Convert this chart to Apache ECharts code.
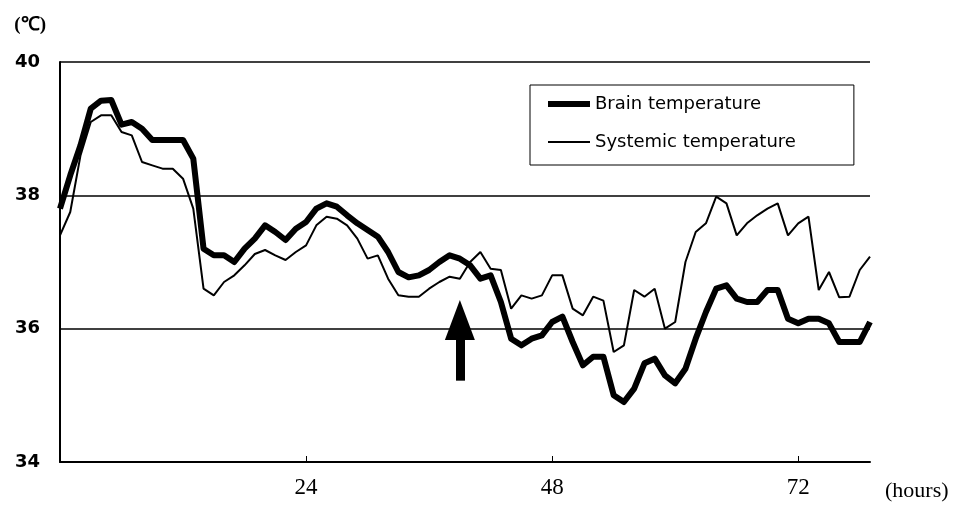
<!DOCTYPE html>
<html>
<head>
<meta charset="utf-8">
<script src="https://cdn.jsdelivr.net/npm/echarts@6/dist/echarts.min.js"></script>
<style>
  html, body { margin: 0; padding: 0; background: #fff; }
  #grafico-temperatura { width: 960px; height: 506px; }
</style>
</head>
<body>
<div id="grafico-temperatura"></div>
<script>
// --- dados (uma amostra por hora) ---
var horas = [
  0, 1, 2, 3, 4, 5, 6, 7, 8, 9, 10, 11, 12, 13, 14, 15, 16, 17, 18, 19,
  20, 21, 22, 23, 24, 25, 26, 27, 28, 29, 30, 31, 32, 33, 34, 35, 36, 37, 38, 39,
  40, 41, 42, 43, 44, 45, 46, 47, 48, 49, 50, 51, 52, 53, 54, 55, 56, 57, 58, 59,
  60, 61, 62, 63, 64, 65, 66, 67, 68, 69, 70, 71, 72, 73, 74, 75, 76, 77, 78, 79
];

var tempCerebral = [
  37.8, 38.3, 38.75, 39.3, 39.42, 39.43, 39.06, 39.1, 39.0, 38.83,
  38.83, 38.83, 38.83, 38.55, 37.2, 37.1, 37.1, 37.0, 37.2, 37.35,
  37.55, 37.45, 37.33, 37.5, 37.6, 37.8, 37.88, 37.83, 37.7, 37.58,
  37.48, 37.38, 37.15, 36.85, 36.77, 36.8, 36.88, 37.0, 37.1, 37.05,
  36.95, 36.75, 36.8, 36.4, 35.85, 35.75, 35.85, 35.9, 36.1, 36.18,
  35.8, 35.45, 35.58, 35.58, 35.0, 34.9, 35.1, 35.48, 35.55, 35.3,
  35.18, 35.4, 35.85, 36.25, 36.6, 36.65, 36.45, 36.4, 36.4, 36.58,
  36.58, 36.15, 36.08, 36.15, 36.15, 36.08, 35.8, 35.8, 35.8, 36.1
];

var tempSistemica = [
  37.4, 37.75, 38.6, 39.1, 39.2, 39.2, 38.95, 38.9, 38.5, 38.45,
  38.4, 38.4, 38.25, 37.8, 36.6, 36.5, 36.7, 36.8, 36.95, 37.12,
  37.18, 37.1, 37.03, 37.15, 37.25, 37.55, 37.68, 37.65, 37.55, 37.35,
  37.05, 37.1, 36.75, 36.5, 36.48, 36.48, 36.6, 36.7, 36.78, 36.75,
  37.0, 37.15, 36.9, 36.88, 36.3, 36.5, 36.45, 36.5, 36.8, 36.8,
  36.3, 36.2, 36.48, 36.42, 35.65, 35.75, 36.58, 36.48, 36.6, 36.0,
  36.1, 37.0, 37.45, 37.58, 37.98, 37.88, 37.4, 37.58, 37.7, 37.8,
  37.88, 37.4, 37.58, 37.68, 36.58, 36.85, 36.47, 36.48, 36.88, 37.08
];

var marcasHoras = [24, 48, 72];
// seta: hora, base da haste, topo da haste, centro da ponta
var setaHora = 39;
var setaBase = 35.22;
var setaTopo = 35.9;
var setaPonta = 36.13;

function iniciarGraficoTemperatura() {
    var elementoDOM = document.getElementById('grafico-temperatura');
    var grafico = echarts.init(elementoDOM, null, { renderer: 'canvas' });

    var mostraHora = function (idx) { return marcasHoras.indexOf(idx) >= 0; };

    var option = {
        animation: false,
        backgroundColor: '#fff',
        grid: { left: 60, right: 90, top: 62, bottom: 44 },
        legend: {
            orient: 'vertical',
            left: 530,
            top: 85,
            padding: [10, 58, 14, 15],
            itemGap: 20,
            itemWidth: 42,
            itemHeight: 14,
            backgroundColor: '#fff',
            borderColor: '#000',
            borderWidth: 1,
            borderRadius: 0,
            itemStyle: { opacity: 0 },
            textStyle: { fontFamily: 'DejaVu Sans', fontSize: 18, color: '#000' },
            data: [
                { name: 'Brain temperature', lineStyle: { width: 6 } },
                { name: 'Systemic temperature', lineStyle: { width: 2 } }
            ]
        },
        xAxis: {
            type: 'category',
            data: horas,
            boundaryGap: false,
            name: '(hours)',
            nameLocation: 'end',
            nameGap: 15,
            nameTextStyle: {
                fontFamily: 'Liberation Serif', fontSize: 22, color: '#000',
                verticalAlign: 'top', align: 'left', padding: [18, 0, 0, 0]
            },
            axisLine: { lineStyle: { color: '#000', width: 2 } },
            axisTick: {
                inside: true, length: 6,
                interval: function (idx) { return mostraHora(idx); },
                lineStyle: { color: '#000', width: 1 }
            },
            axisLabel: {
                interval: function (idx) { return mostraHora(idx); },
                margin: 14,
                fontFamily: 'Liberation Serif', fontSize: 23, color: '#000'
            },
            splitLine: { show: false }
        },
        yAxis: {
            type: 'value',
            min: 34,
            max: 40,
            interval: 2,
            name: '(\u2103)',
            nameLocation: 'end',
            nameGap: 27,
            nameTextStyle: {
                fontFamily: 'Liberation Serif', fontWeight: 'bold', fontSize: 19,
                color: '#000', align: 'right', padding: [0, 14, 0, 0]
            },
            axisLine: { show: true, lineStyle: { color: '#000', width: 2 } },
            axisTick: { show: false },
            axisLabel: {
                margin: 20,
                fontFamily: 'DejaVu Sans', fontWeight: 'bold', fontSize: 18, color: '#000'
            },
            splitLine: { show: true, lineStyle: { color: '#000', width: 1.5 } }
        },
        series: [
            {
                name: 'Brain temperature',
                type: 'line',
                data: tempCerebral,
                symbol: 'none',
                lineStyle: { color: '#000', width: 6, join: 'round' },
                itemStyle: { color: '#000' },
                z: 3,
                // haste da seta
                markLine: {
                    silent: true,
                    symbol: ['none', 'none'],
                    label: { show: false },
                    lineStyle: { color: '#000', width: 9, type: 'solid', cap: 'butt' },
                    data: [[
                        { coord: [setaHora, setaBase] },
                        { coord: [setaHora, setaTopo] }
                    ]]
                },
                // ponta da seta
                markPoint: {
                    silent: true,
                    symbol: 'triangle',
                    symbolSize: [30, 40],
                    label: { show: false },
                    itemStyle: { color: '#000' },
                    data: [{ coord: [setaHora, setaPonta] }]
                }
            },
            {
                name: 'Systemic temperature',
                type: 'line',
                data: tempSistemica,
                symbol: 'none',
                lineStyle: { color: '#000', width: 2 },
                itemStyle: { color: '#000' },
                z: 2
            }
        ]
    };
    grafico.setOption(option);
}

iniciarGraficoTemperatura();
</script>
</body>
</html>
